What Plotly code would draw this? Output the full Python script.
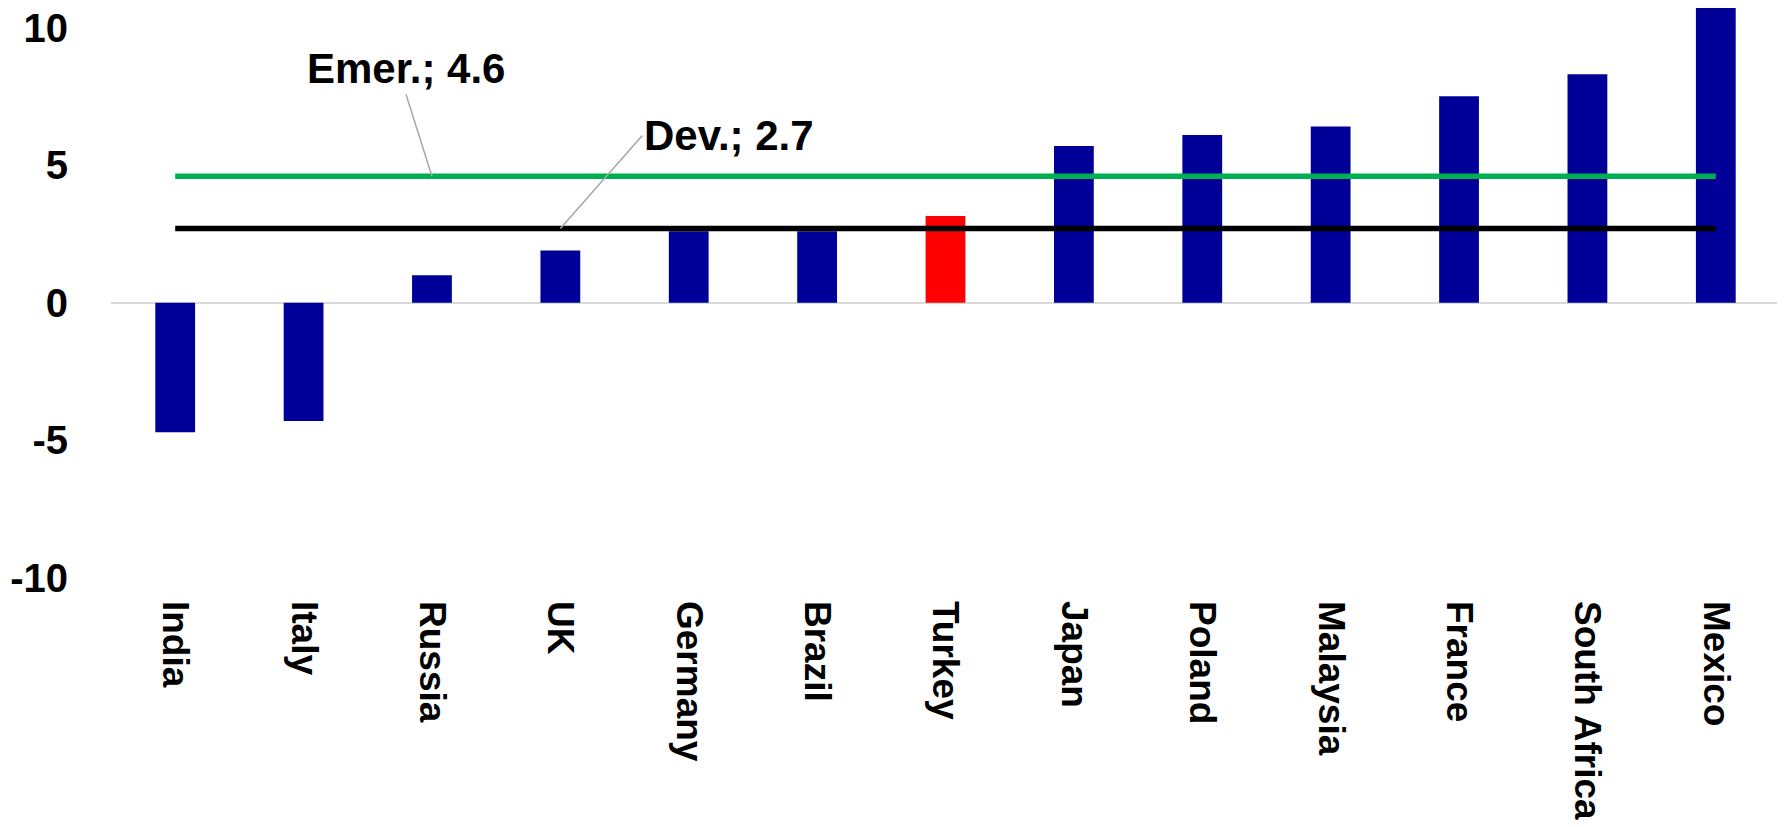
import plotly.graph_objects as go

countries = ["India", "Italy", "Russia", "UK", "Germany", "Brazil", "Turkey",
             "Japan", "Poland", "Malaysia", "France", "South Africa", "Mexico"]
values = [-4.7, -4.3, 1.0, 1.9, 2.6, 2.6, 3.15, 5.7, 6.1, 6.4, 7.5, 8.3, 11.8]
emer_avg = [4.6, 4.6, 4.6, 4.6, 4.6, 4.6, 4.6, 4.6, 4.6, 4.6, 4.6, 4.6, 4.6]
dev_avg = [2.7, 2.7, 2.7, 2.7, 2.7, 2.7, 2.7, 2.7, 2.7, 2.7, 2.7, 2.7, 2.7]
y_ticks = [-10, -5, 0, 5, 10]
y_ticktext = ["-10", "-5", "0", "5", "10"]

BLUE = "#000099"
RED = "#FF0000"
FONT = "Liberation Sans, Arial, sans-serif"

bar_colors = [RED if c == "Turkey" else BLUE for c in countries]

fig = go.Figure()
fig.add_trace(go.Bar(x=countries, y=values, marker=dict(color=bar_colors, line=dict(width=0)),
                     showlegend=False))
fig.add_trace(go.Scatter(x=countries, y=emer_avg, mode="lines", showlegend=False,
                         line=dict(color="#00B050", width=5.5)))
fig.add_trace(go.Scatter(x=countries, y=dev_avg, mode="lines", showlegend=False,
                         line=dict(color="#000000", width=5.5)))

# leader-line labels
fig.add_annotation(x="Russia", y=emer_avg[2], text="Emer.; 4.6", showarrow=True,
                   arrowhead=0, arrowwidth=1.5, arrowcolor="#A6A6A6",
                   ax=-26, ay=-82, xanchor="center", yanchor="bottom",
                   font=dict(family=FONT, size=42, color="black", weight="bold"))
fig.add_annotation(x="UK", y=dev_avg[3], text="Dev.; 2.7", showarrow=True,
                   arrowhead=0, arrowwidth=1.5, arrowcolor="#A6A6A6",
                   ax=82, ay=-93, xanchor="left", yanchor="middle",
                   font=dict(family=FONT, size=42, color="black", weight="bold"))

# page body adds an 8px offset, so the figure is sized to the visible window
fig.update_layout(
    width=1777, height=819,
    margin=dict(l=103, r=5, t=0, b=249, autoexpand=False),
    plot_bgcolor="white", paper_bgcolor="white",
    bargap=0.69,
    font=dict(family=FONT, color="black", weight="bold"),
)
fig.update_xaxes(range=[-0.5, 12.5], showgrid=False, showline=False, ticks="",
                 tickangle=90, tickfont=dict(size=37, family=FONT, weight="bold"),
                 ticklabelstandoff=22, automargin=False, ticklabeloverflow="allow")
fig.update_yaxes(range=[-10, 10.71], tickvals=y_ticks, ticktext=y_ticktext,
                 showgrid=False, showline=False,
                 ticks="", zeroline=True, zerolinecolor="#D9D9D9", zerolinewidth=2,
                 tickfont=dict(size=40, family=FONT, weight="bold"),
                 ticklabelstandoff=42, automargin=False, ticklabeloverflow="allow")

fig.write_html("out.html")
